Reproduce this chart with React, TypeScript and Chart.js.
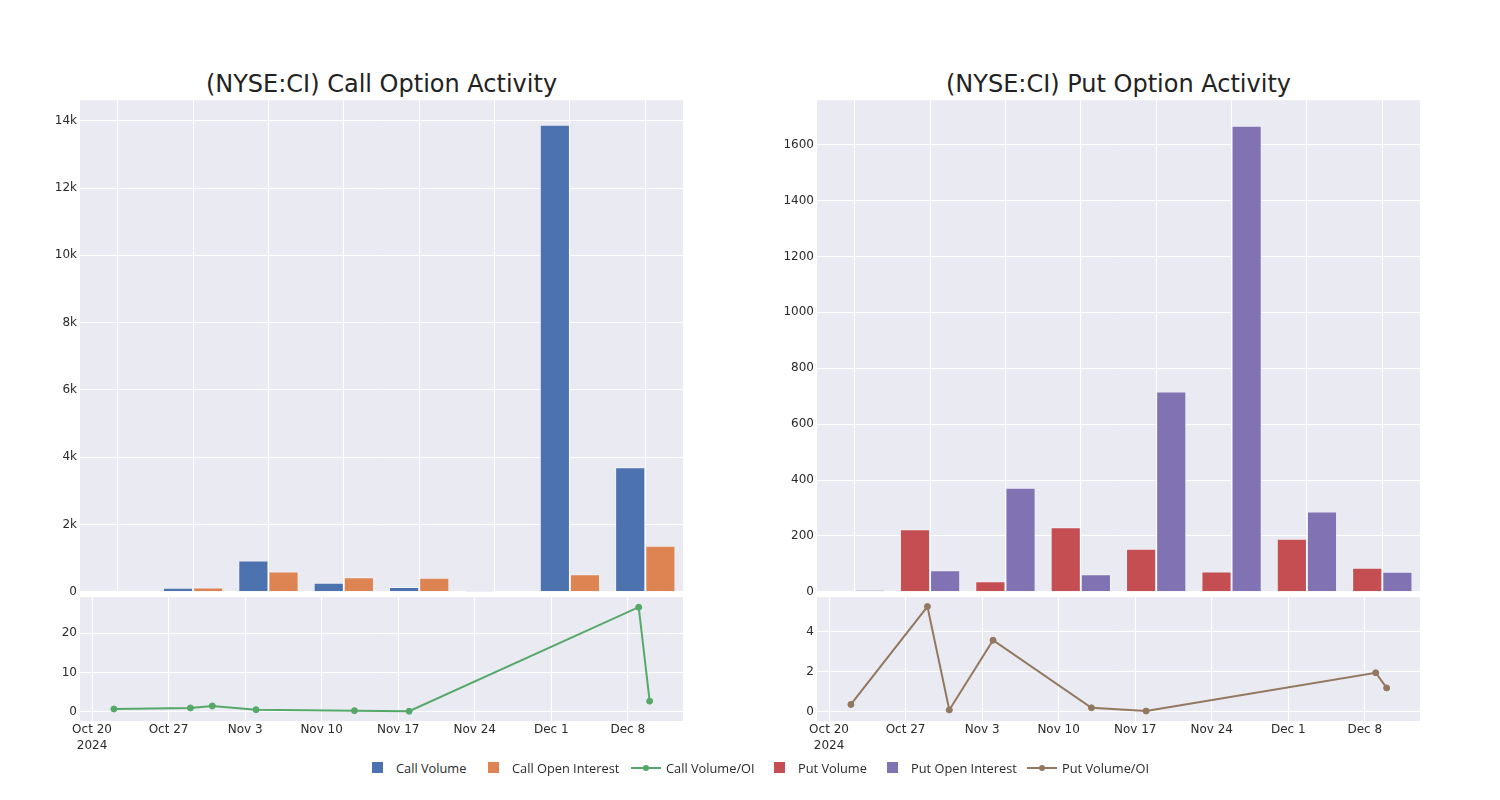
import React, { useEffect, useRef } from "react";
import { Chart, registerables } from "chart.js";

Chart.register(...registerables);

// ---------- data ----------
const dates = ["2024-10-22", "2024-10-29", "2024-10-31", "2024-11-04", "2024-11-13", "2024-11-18", "2024-12-09", "2024-12-10"];
const callVolume = [15, 120, 930, 270, 140, 2, 13880, 3700];
const callOpenInterest = [22, 128, 600, 430, 420, 20, 520, 1370];
const callVolumeOI = [0.68, 0.94, 1.45, 0.5, 0.26, 0.1, 26.6, 2.67];
const putVolume = [2, 224, 38, 231, 154, 73, 190, 86];
const putOpenInterest = [6, 77, 372, 63, 717, 1668, 287, 72];
const putVolumeOI = [0.36, 5.27, 0.085, 3.58, 0.19, 0.03, 1.95, 1.19];

const dateTicks = ["2024-10-20", "2024-10-27", "2024-11-03", "2024-11-10", "2024-11-17", "2024-11-24", "2024-12-01", "2024-12-08"];
const dateTickLabels: (string | string[])[] = [["Oct 20", "2024"], "Oct 27", "Nov 3", "Nov 10", "Nov 17", "Nov 24", "Dec 1", "Dec 8"];
const callVolumeTicks = [0, 2000, 4000, 6000, 8000, 10000, 12000, 14000];
const putVolumeTicks = [0, 200, 400, 600, 800, 1000, 1200, 1400, 1600];
const callRatioTicks = [0, 10, 20];
const putRatioTicks = [0, 2, 4];

const COLORS = {
  callVolume: "#4C72B0",
  callOI: "#DD8452",
  callRatio: "#55A868",
  putVolume: "#C44E52",
  putOI: "#8172B3",
  putRatio: "#937860",
};

const BG = "#EAEAF2";
const TEXT = "#2a2a2a";
const FONT = "'DejaVu Sans', sans-serif";
const EPOCH = Date.parse("2024-10-20T00:00:00Z");
const dayOf = (d: string) => (Date.parse(d + "T00:00:00Z") - EPOCH) / 86400000;

const bgPlugin = {
  id: "plotBg",
  beforeDraw(chart: any) {
    const { ctx, chartArea } = chart;
    if (!chartArea) return;
    ctx.save();
    ctx.fillStyle = BG;
    ctx.fillRect(chartArea.left, chartArea.top, chartArea.right - chartArea.left, chartArea.bottom - chartArea.top);
    ctx.restore();
  },
};

function ChartCanvas({ config, style }: { config: any; style: React.CSSProperties }) {
  const ref = useRef<HTMLCanvasElement>(null);
  useEffect(() => {
    if (!ref.current) return;
    const chart = new Chart(ref.current, config);
    return () => chart.destroy();
  }, []);
  return (
    <div style={{ position: "absolute", ...style }}>
      <canvas ref={ref} />
    </div>
  );
}

const yAxisWidth = 60;

function barConfig(a: number[], b: number[], colA: string, colB: string, labA: string, labB: string, ticks: number[], max: number, fmt: (v: number) => string) {
  return {
    type: "bar",
    data: {
      labels: dates,
      datasets: [
        { label: labA, data: a, backgroundColor: colA, borderColor: "rgba(255,255,255,0.35)", borderWidth: 1, barPercentage: 1, categoryPercentage: 0.8 },
        { label: labB, data: b, backgroundColor: colB, borderColor: "rgba(255,255,255,0.35)", borderWidth: 1, barPercentage: 1, categoryPercentage: 0.8 },
      ],
    },
    options: {
      animation: false,
      responsive: true,
      maintainAspectRatio: false,
      layout: { padding: { top: 10, right: 5, bottom: 0, left: 0 } },
      plugins: { legend: { display: false }, tooltip: { enabled: false } },
      scales: {
        x: {
          type: "category",
          offset: true,
          grid: { color: "#ffffff", lineWidth: 1, offset: false, drawTicks: false },
          border: { display: false },
          ticks: { display: false },
          afterFit: (s: any) => { s.height = 0; },
        },
        y: {
          min: 0,
          max,
          grid: { color: "#ffffff", lineWidth: 1, drawTicks: false },
          border: { display: false },
          afterBuildTicks: (s: any) => { s.ticks = ticks.map((v) => ({ value: v })); },
          ticks: { color: TEXT, font: { family: FONT, size: 12 }, padding: 3, callback: (v: any) => fmt(Number(v)) },
          afterFit: (s: any) => { s.width = yAxisWidth; },
        },
      },
    },
    plugins: [bgPlugin],
  };
}

function lineConfig(values: number[], color: string, label: string, ticks: number[], min: number, max: number) {
  return {
    type: "line",
    data: {
      datasets: [
        {
          label,
          data: dates.map((d, i) => ({ x: dayOf(d), y: values[i] })),
          borderColor: color,
          backgroundColor: color,
          pointBackgroundColor: color,
          pointBorderColor: color,
          borderWidth: 2,
          pointRadius: 3,
          pointBorderWidth: 1,
          tension: 0,
        },
      ],
    },
    options: {
      animation: false,
      responsive: true,
      maintainAspectRatio: false,
      layout: { padding: { top: 10, right: 5, bottom: 0, left: 0 } },
      plugins: { legend: { display: false }, tooltip: { enabled: false } },
      scales: {
        x: {
          type: "linear",
          min: -1.1,
          max: 54.05,
          grid: { color: "#ffffff", lineWidth: 1, drawTicks: false },
          border: { display: false },
          afterBuildTicks: (s: any) => { s.ticks = dateTicks.map((d) => ({ value: dayOf(d) })); },
          ticks: {
            color: TEXT,
            font: { family: FONT, size: 12, lineHeight: 1.4 },
            padding: 0,
            autoSkip: false,
            maxRotation: 0,
            callback: (_v: any, i: number) => dateTickLabels[i],
          },
          afterFit: (s: any) => { s.height = 38; },
        },
        y: {
          min,
          max,
          grid: { color: "#ffffff", lineWidth: 1, drawTicks: false },
          border: { display: false },
          afterBuildTicks: (s: any) => { s.ticks = ticks.map((v) => ({ value: v })); },
          ticks: { color: TEXT, font: { family: FONT, size: 12 }, padding: 3 },
          afterFit: (s: any) => { s.width = yAxisWidth; },
        },
      },
    },
    plugins: [bgPlugin],
  };
}

const kFmt = (v: number) => (v === 0 ? "0" : v / 1000 + "k");
const plainFmt = (v: number) => String(v);

const legendItems = [
  { label: "Call Volume", color: COLORS.callVolume, kind: "box", x: 396 },
  { label: "Call Open Interest", color: COLORS.callOI, kind: "box", x: 512 },
  { label: "Call Volume/OI", color: COLORS.callRatio, kind: "line", x: 666 },
  { label: "Put Volume", color: COLORS.putVolume, kind: "box", x: 798 },
  { label: "Put Open Interest", color: COLORS.putOI, kind: "box", x: 911 },
  { label: "Put Volume/OI", color: COLORS.putRatio, kind: "line", x: 1062 },
];

export default function App() {
  const panels = [
    {
      title: "(NYSE:CI) Call Option Activity",
      left: 80,
      bar: barConfig(callVolume, callOpenInterest, COLORS.callVolume, COLORS.callOI, "Call Volume", "Call Open Interest", callVolumeTicks, 14610, kFmt),
      line: lineConfig(callVolumeOI, COLORS.callRatio, "Call Volume/OI", callRatioTicks, -2.38, 29.15),
    },
    {
      title: "(NYSE:CI) Put Option Activity",
      left: 817,
      bar: barConfig(putVolume, putOpenInterest, COLORS.putVolume, COLORS.putOI, "Put Volume", "Put Open Interest", putVolumeTicks, 1759, plainFmt),
      line: lineConfig(putVolumeOI, COLORS.putRatio, "Put Volume/OI", putRatioTicks, -0.47, 5.74),
    },
  ];
  return (
    <div style={{ position: "absolute", left: 0, top: 0, width: 1500, height: 800, background: "#ffffff", overflow: "hidden" }}>
      {panels.map((p, i) => (
        <React.Fragment key={i}>
          <div
            style={{
              position: "absolute",
              left: p.left,
              width: 603,
              top: 68,
              height: 32,
              lineHeight: "32px",
              textAlign: "center",
              fontFamily: FONT,
              fontSize: 24,
              color: "#222222",
              whiteSpace: "nowrap",
            }}
          >
            {p.title}
          </div>
          <ChartCanvas config={p.bar} style={{ left: p.left - yAxisWidth, top: 90, width: 668, height: 512 }} />
          <ChartCanvas config={p.line} style={{ left: p.left - yAxisWidth, top: 587, width: 668, height: 172 }} />
        </React.Fragment>
      ))}
      {legendItems.map((it, i) => (
        <div key={i} style={{ position: "absolute", left: 0, top: 760, height: 16, width: 1500 }}>
          {it.kind === "box" ? (
            <div style={{ position: "absolute", left: it.x - 24, top: 2, width: 11, height: 11, background: it.color }} />
          ) : (
            <>
              <div style={{ position: "absolute", left: it.x - 35, top: 6.5, width: 30, height: 2, background: it.color }} />
              <div style={{ position: "absolute", left: it.x - 23, top: 4.5, width: 6, height: 6, borderRadius: 3, background: it.color }} />
            </>
          )}
          <div
            style={{
              position: "absolute",
              left: it.x,
              top: 0,
              height: 16,
              lineHeight: "16px",
              fontFamily: "'Open Sans', sans-serif",
              fontSize: 12.8,
              color: TEXT,
              whiteSpace: "nowrap",
            }}
          >
            {it.label}
          </div>
        </div>
      ))}
    </div>
  );
}
